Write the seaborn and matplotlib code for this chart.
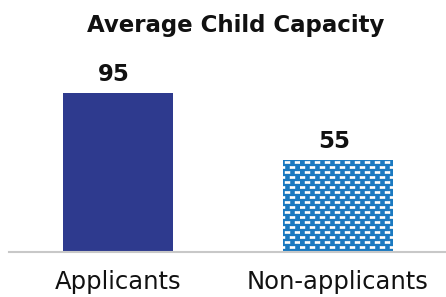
import numpy as np
import matplotlib
matplotlib.use("Agg")
import matplotlib.pyplot as plt
import matplotlib.hatch as mhatch
from matplotlib.path import Path
import seaborn as sns

categories = ["Applicants", "Non-applicants"]
values = [95, 55]
title = "Average Child Capacity"
colors = ["#2E3A8E", "#1A79C0"]


class BrickDashHatch(mhatch.HatchPatternBase):
    """White dashes in a staggered brick layout (tile = 1 inch)."""
    ncols = 10
    nrows = 20
    w = 0.05
    h = 0.024

    def __init__(self, hatch, density):
        self.active = hatch.count("-") > 0
        self.num_vertices = (self.ncols * self.nrows * 5) if self.active else 0

    def set_vertices_and_codes(self, vertices, codes):
        verts = []
        cds = []
        for j in range(self.nrows):
            yc = (j + 0.5) / self.nrows
            shift = 0.25 if j % 2 == 0 else 0.75
            for i in range(self.ncols):
                xc = (i + shift) / self.ncols
                x0, x1 = xc - self.w / 2, xc + self.w / 2
                y0, y1 = yc - self.h / 2, yc + self.h / 2
                verts += [[x0, y0], [x1, y0], [x1, y1], [x0, y1], [x0, y0]]
                cds += [Path.MOVETO, Path.LINETO, Path.LINETO, Path.LINETO, Path.CLOSEPOLY]
        vertices[:] = np.array(verts)
        codes[:] = np.array(cds, dtype=Path.code_type)


mhatch._hatch_types[:] = [BrickDashHatch]

sns.set_theme(style="white")
plt.rcParams["font.family"] = ["DejaVu Sans"]
plt.rcParams["hatch.linewidth"] = 0.3

W, H = 446, 297
fig = plt.figure(figsize=(W / 100, H / 100), dpi=100)
ax = fig.add_axes([9 / W, 45 / H, 437 / W, 167.4 / H])

sns.barplot(x=categories, y=values, hue=categories, palette=colors,
            width=0.5, saturation=1, legend=False, ax=ax)

bars = sorted(ax.patches, key=lambda p: p.get_x())
for patch in bars:
    patch.set_linewidth(0)
bars[1].set_edgecolor("white")
bars[1].set_linewidth(0)
bars[1].set_hatch("-")

for patch in bars:
    xc = patch.get_x() + patch.get_width() / 2
    top = patch.get_height()
    ax.annotate(f"{top:.0f}", xy=(xc, top), xytext=(-3, 8.5),
                textcoords="offset points", ha="center", va="baseline",
                fontsize=16.5, fontweight="bold", color="#111111")

ax.set_xlim(-0.495, 1.491)
ax.set_ylim(0, 100)
ax.set_yticks([])
ax.set_xlabel("")
ax.set_ylabel("")
for s in ["top", "left", "right"]:
    ax.spines[s].set_visible(False)
ax.spines["bottom"].set_color("#C8C8C8")
ax.spines["bottom"].set_linewidth(1.5)
ax.tick_params(axis="x", length=0, pad=13, labelsize=17.5, labelcolor="#111111")

fig.text(236 / W, (H - 32) / H, title, ha="center", va="baseline",
         fontsize=16.5, fontweight="bold", color="#111111")

fig.savefig("out.png", dpi=100, facecolor="white")
